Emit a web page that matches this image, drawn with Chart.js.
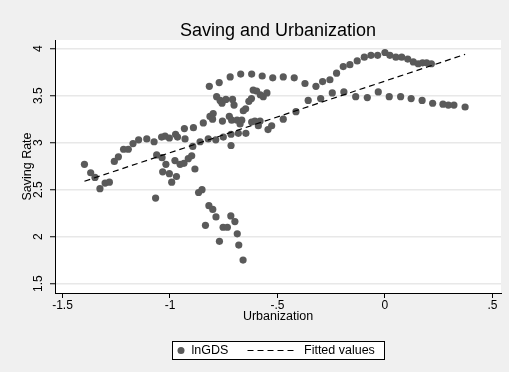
<!DOCTYPE html>
<html>
<head>
<meta charset="utf-8">
<script src="https://cdn.jsdelivr.net/npm/chart.js@4/dist/chart.umd.min.js"></script>
<style>
  html, body { margin: 0; padding: 0; background: #F0F0F0; }
  #wrap { width: 509px; height: 372px; }
</style>
</head>
<body>
<div id="wrap"><canvas id="c" width="509" height="372"></canvas></div>
<script>
// Urbanization (x) and log saving rate (y) observations
const urbanization = [
  -1.398, -1.369, -1.349, -1.326, -1.302, -1.282,
  -1.259, -1.240, -1.216, -1.194, -1.172, -1.146, -1.108, -1.074, -1.039, -1.023,
  -1.003, -0.974, -0.965, -0.933, -0.930, -0.891, -0.845, -0.814, -0.799, -0.802,
  -0.817, -0.771, -0.720, -0.671, -0.620, -0.571, -0.522, -0.473, -0.422, -0.372,
  -0.321, -0.290, -0.256, -0.225, -0.194, -0.163, -0.129, -0.096, -0.065, -0.034,
  0.000, 0.023, 0.051, 0.078, 0.106, 0.132, 0.155, 0.175, 0.194, 0.216,
  -0.783, -0.767, -0.758, -0.740, -0.709, -0.702, -0.756, -0.724, -0.713, -0.688,
  -0.674, -0.666, -0.659, -0.648, -0.633, -0.621, -0.613, -0.597, -0.580, -0.566,
  -0.549, -0.620, -0.605, -0.581, -0.589, -0.544, -0.527,
  -0.894, -0.860, -0.822, -0.787, -0.752, -0.716, -0.716, -0.682, -0.647,
  -0.473, -0.414, -0.357, -0.299, -0.245, -0.191, -0.136, -0.082, -0.031, 0.020,
  0.073, 0.122, 0.173, 0.222, 0.270, 0.295, 0.321, 0.373,
  -1.062, -1.037, -1.019, -0.977, -0.953, -0.935, -0.915, -0.899, -1.034, -1.003,
  -0.970, -0.992, -0.884, -1.067, -0.867, -0.851, -0.819, -0.801, -0.786, -0.835,
  -0.717, -0.698, -0.753, -0.733, -0.687, -0.770, -0.680, -0.660
];
const lnGDS = [
  2.77, 2.68, 2.63, 2.51, 2.57, 2.58,
  2.80, 2.85, 2.93, 2.93, 2.99, 3.03, 3.04, 3.01, 3.06, 3.07,
  3.05, 3.09, 3.06, 3.15, 3.04, 3.16, 3.21, 3.28, 3.31, 3.25,
  3.60, 3.64, 3.70, 3.73, 3.73, 3.71, 3.69, 3.70, 3.69, 3.63,
  3.60, 3.65, 3.67, 3.74, 3.81, 3.83, 3.87, 3.91, 3.93, 3.93,
  3.96, 3.93, 3.91, 3.91, 3.89, 3.86, 3.84, 3.85, 3.85, 3.84,
  3.49, 3.45, 3.42, 3.46, 3.46, 3.40, 3.23, 3.28, 3.24, 3.24,
  3.20, 3.24, 3.34, 3.36, 3.44, 3.47, 3.56, 3.55, 3.51, 3.49,
  3.53, 3.22, 3.23, 3.23, 3.18, 3.14, 3.18,
  2.96, 3.01, 3.04, 3.03, 3.06, 3.09, 2.97, 3.10, 3.10,
  3.25, 3.33, 3.45, 3.47, 3.53, 3.54, 3.49, 3.48, 3.54, 3.49,
  3.49, 3.47, 3.45, 3.42, 3.41, 3.40, 3.40, 3.38,
  2.87, 2.84, 2.77, 2.81, 2.77, 2.78, 2.83, 2.86, 2.69, 2.67,
  2.64, 2.58, 2.72, 2.41, 2.47, 2.50, 2.33, 2.29, 2.21, 2.12,
  2.22, 2.16, 2.10, 2.10, 2.03, 1.95, 1.91, 1.75
];

// Linear fit, drawn across the observed urbanization range
const fittedX = [-1.398, 0.373];
const fittedY = [2.59, 3.94];

const xTicks = [-1.5, -1, -0.5, 0, 0.5];
const xTickLabels = ['-1.5', '-1', '-.5', '0', '.5'];
const yTicks = [1.5, 2, 2.5, 3, 3.5, 4];
const yTickLabels = ['1.5', '2', '2.5', '3', '3.5', '4'];

const chartTitle = 'Saving and Urbanization';
const xTitle = 'Urbanization';
const yTitle = 'Saving Rate';
const seriesNames = ['lnGDS', 'Fitted values'];

const FONT = '"Liberation Sans", Arial, sans-serif';
const MARKER = '#5a5a5a';

const scatterPoints = urbanization.map((x, i) => ({ x: x, y: lnGDS[i] }));
const fitPoints = fittedX.map((x, i) => ({ x: x, y: fittedY[i] }));

// Grey page, white plot region
const backdrop = {
  id: 'backdrop',
  beforeDraw(chart) {
    const { ctx, chartArea: a } = chart;
    ctx.save();
    ctx.fillStyle = '#F0F0F0';
    ctx.fillRect(0, 0, chart.width, chart.height);
    ctx.fillStyle = '#FFFFFF';
    ctx.fillRect(a.left, a.top, a.right - a.left, a.bottom - a.top);
    ctx.restore();
  }
};

// Title above the plot region and the boxed key underneath
const decorations = {
  id: 'decorations',
  afterDraw(chart) {
    const { ctx, chartArea: a } = chart;
    const cx = (a.left + a.right) / 2;
    ctx.save();
    ctx.fillStyle = '#000';
    ctx.font = '18px ' + FONT;
    ctx.textAlign = 'center';
    ctx.textBaseline = 'alphabetic';
    ctx.fillText(chartTitle, cx, 36);

    // key box
    const boxW = 212, boxH = 18, boxTop = 341;
    const boxL = Math.round(cx - boxW / 2) + 0.5;
    ctx.fillStyle = '#FFFFFF';
    ctx.fillRect(boxL, boxTop + 0.5, boxW, boxH);
    ctx.strokeStyle = '#000';
    ctx.lineWidth = 1;
    ctx.strokeRect(boxL, boxTop + 0.5, boxW, boxH);
    const midY = boxTop + boxH / 2 + 0.5;

    ctx.fillStyle = MARKER;
    ctx.beginPath();
    ctx.arc(boxL + 8.5, midY, 3.5, 0, Math.PI * 2);
    ctx.fill();

    ctx.fillStyle = '#000';
    ctx.font = '12.5px ' + FONT;
    ctx.textAlign = 'left';
    ctx.textBaseline = 'middle';
    ctx.fillText(seriesNames[0], boxL + 19, midY);

    ctx.strokeStyle = '#000';
    ctx.lineWidth = 1.2;
    ctx.setLineDash([6, 4]);
    ctx.beginPath();
    ctx.moveTo(boxL + 75, midY);
    ctx.lineTo(boxL + 124, midY);
    ctx.stroke();
    ctx.setLineDash([]);
    ctx.fillText(seriesNames[1], boxL + 131.5, midY);
    ctx.restore();
  }
};

new Chart(document.getElementById('c'), {
  data: {
    datasets: [
      {
        type: 'line',
        label: seriesNames[1],
        data: fitPoints,
        borderColor: '#000',
        borderWidth: 1.2,
        borderDash: [6, 4],
        pointRadius: 0,
        fill: false,
        order: 0
      },
      {
        type: 'scatter',
        label: seriesNames[0],
        data: scatterPoints,
        backgroundColor: MARKER,
        borderWidth: 0,
        pointRadius: 3.6,
        pointHoverRadius: 3.6,
        order: 1
      }
    ]
  },
  options: {
    responsive: false,
    animation: false,
    devicePixelRatio: 1,
    events: [],
    layout: { padding: { top: 40, right: 8, left: 0, bottom: 0 } },
    plugins: {
      legend: { display: false },
      title: { display: false },
      tooltip: { enabled: false }
    },
    scales: {
      x: {
        type: 'linear',
        position: 'bottom',
        min: -1.535,
        max: 0.540,
        afterBuildTicks(scale) { scale.ticks = xTicks.map(v => ({ value: v })); },
        afterFit(scale) { scale.height = 79; },
        ticks: {
          color: '#000',
          font: { family: FONT, size: 12 },
          padding: 0,
          maxRotation: 0,
          minRotation: 0,
          autoSkip: false,
          callback: (v) => xTickLabels[xTicks.indexOf(v)]
        },
        grid: {
          display: true,
          drawOnChartArea: false,
          drawTicks: true,
          tickLength: 5,
          tickColor: '#000',
          tickWidth: 1
        },
        border: { display: true, color: '#000', width: 1 },
        title: {
          display: true,
          text: xTitle,
          color: '#000',
          font: { family: FONT, size: 12.5 },
          padding: { top: 0, bottom: 47.8 }
        }
      },
      y: {
        type: 'linear',
        position: 'left',
        min: 1.40,
        max: 4.093,
        afterBuildTicks(scale) { scale.ticks = yTicks.map(v => ({ value: v })); },
        afterFit(scale) { scale.width = 55; },
        ticks: {
          color: '#000',
          font: { family: FONT, size: 12 },
          padding: 2.5,
          minRotation: 90,
          maxRotation: 90,
          crossAlign: 'center',
          autoSkip: false,
          callback: (v) => yTickLabels[yTicks.indexOf(v)]
        },
        grid: {
          display: true,
          drawOnChartArea: true,
          color: '#E8E8E8',
          lineWidth: 1.5,
          drawTicks: true,
          tickLength: 5,
          tickColor: '#000',
          tickWidth: 1
        },
        border: { display: true, color: '#000', width: 1 },
        title: {
          display: true,
          text: yTitle,
          color: '#000',
          font: { family: FONT, size: 12.5 },
          padding: { top: 20, bottom: 0 }
        }
      }
    }
  },
  plugins: [backdrop, decorations]
});
</script>
</body>
</html>
